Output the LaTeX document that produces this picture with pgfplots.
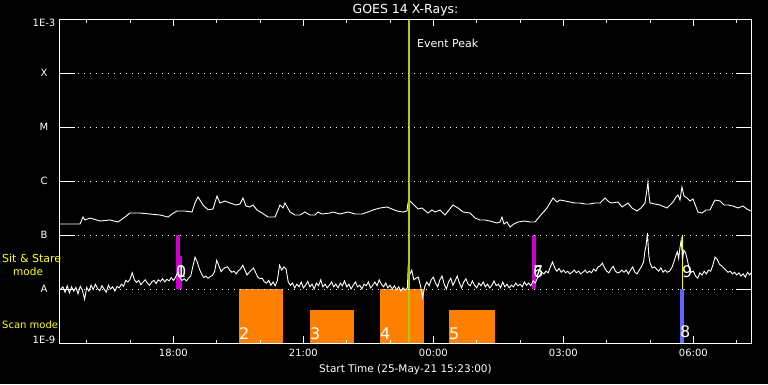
\documentclass[border=0pt]{standalone}
\usepackage{pgfplots}
\pgfplotsset{compat=1.18}
\usepackage{fontspec}
\setmainfont{DejaVu Sans}
\definecolor{scanorange}{RGB}{255,128,0}
\definecolor{sitmag}{RGB}{204,0,204}
\definecolor{evgreen}{RGB}{165,205,10}
\definecolor{bluebar}{RGB}{100,100,255}
\definecolor{ylw}{RGB}{255,255,0}
\begin{document}
\begin{tikzpicture}
\path[use as bounding box, fill=black] (-60pt,-41pt) rectangle (708pt,343pt);
\begin{axis}[
  at={(0pt,0pt)}, anchor=south west,
  scale only axis, width=691pt, height=324pt,
  xmin=15.383, xmax=31.33, ymin=-9, ymax=-3,
  axis on top,
  axis line style={draw=white, line width=1pt},
  xtick={18,21,24,27,30},
  xticklabels={18:00,21:00,00:00,03:00,06:00},
  minor xtick={16,17,19,20,22,23,25,26,28,29,31},
  major tick length=7pt, minor tick length=3.5pt,
  tick style={white, line width=1pt},
  xticklabel pos=lower,
  ytick={-8,-7,-6,-5,-4},
  yticklabels={A,B,C,M,X},
  extra y ticks={-9},
  extra y tick labels={1E-9},
  extra y tick style={yticklabel style={yshift=3.5pt}},
  ytick style={draw=none},
  ymajorgrids,
  major grid style={white, line width=0.9pt, dash pattern=on 0.9pt off 5.1pt},
  ticklabel style={white, font=\fontsize{10}{12}\selectfont},
  xticklabel style={yshift=-2.5pt},
  yticklabel style={anchor=center, xshift=-16pt},
  xlabel={Start Time (25-May-21 15:23:00)},
  xlabel style={white, font=\fontsize{10.5}{12}\selectfont, at={(axis description cs:0.5,0)}, anchor=base, yshift=-29pt},
]
% scan mode bars
\addplot[fill=scanorange, draw=none] coordinates {(19.514,-9) (19.514,-8) (20.529,-8) (20.529,-9)};
\addplot[fill=scanorange, draw=none] coordinates {(21.152,-9) (21.152,-8.389) (22.168,-8.389) (22.168,-9)};
\addplot[fill=scanorange, draw=none] coordinates {(22.768,-9) (22.768,-8) (23.783,-8) (23.783,-9)};
\addplot[fill=scanorange, draw=none] coordinates {(24.360,-9) (24.360,-8.389) (25.422,-8.389) (25.422,-9)};
% sit and stare bars
\addplot[fill=sitmag, draw=none] coordinates {(18.060,-8) (18.060,-7) (18.152,-7) (18.152,-8)};
\addplot[fill=sitmag, draw=none] coordinates {(18.060,-8) (18.060,-7.389) (18.198,-7.389) (18.198,-8)};
\addplot[fill=sitmag, draw=none] coordinates {(26.275,-8) (26.275,-7) (26.368,-7) (26.368,-8)};
\addplot[fill=bluebar, draw=none] coordinates {(29.691,-9) (29.691,-8) (29.783,-8) (29.783,-9)};
\addplot[ylw, line width=1pt] coordinates {(29.760,-8) (29.760,-7)};
% y tick segments
\draw[white, line width=1pt] (axis cs:15.383,-8) -- ++(15pt,0pt);
\draw[white, line width=1pt] (axis cs:15.383,-7) -- ++(15pt,0pt);
\draw[white, line width=1pt] (axis cs:15.383,-6) -- ++(15pt,0pt);
\draw[white, line width=1pt] (axis cs:15.383,-5) -- ++(15pt,0pt);
\draw[white, line width=1pt] (axis cs:15.383,-4) -- ++(15pt,0pt);
\draw[white, line width=1pt] (axis cs:31.33,-8) -- ++(-15pt,0pt);
\draw[white, line width=1pt] (axis cs:31.33,-7) -- ++(-15pt,0pt);
\draw[white, line width=1pt] (axis cs:31.33,-6) -- ++(-15pt,0pt);
\draw[white, line width=1pt] (axis cs:31.33,-5) -- ++(-15pt,0pt);
\draw[white, line width=1pt] (axis cs:31.33,-4) -- ++(-15pt,0pt);
% long channel
\addplot[white, line width=0.9pt] table {
x y
15.383 -6.796
15.845 -6.796
15.914 -6.667
15.960 -6.722
16.075 -6.685
16.306 -6.741
16.537 -6.722
16.722 -6.759
16.883 -6.667
16.998 -6.593
17.229 -6.593
17.460 -6.611
17.691 -6.630
17.875 -6.667
17.968 -6.611
18.083 -6.556
18.268 -6.556
18.429 -6.574
18.498 -6.407
18.568 -6.296
18.683 -6.444
18.798 -6.533
18.914 -6.519
19.006 -6.278
19.075 -6.407
19.191 -6.370
19.306 -6.407
19.445 -6.444
19.537 -6.426
19.606 -6.315
19.675 -6.463
19.768 -6.481
19.837 -6.444
19.929 -6.537
20.045 -6.593
20.183 -6.667
20.345 -6.667
20.414 -6.537
20.460 -6.444
20.529 -6.500
20.575 -6.407
20.691 -6.574
20.806 -6.630
20.922 -6.630
21.037 -6.574
21.152 -6.630
21.268 -6.630
21.337 -6.574
21.429 -6.611
21.614 -6.593
21.683 -6.574
21.845 -6.611
22.029 -6.574
22.191 -6.611
22.352 -6.611
22.491 -6.574
22.606 -6.537
22.768 -6.500
22.929 -6.481
23.045 -6.519
23.160 -6.556
23.299 -6.574
23.391 -6.556
23.414 -6.407
23.460 -6.370
23.529 -6.426
23.645 -6.519
23.737 -6.500
23.875 -6.593
23.968 -6.537
24.037 -6.574
24.152 -6.537
24.268 -6.630
24.360 -6.537
24.452 -6.444
24.568 -6.500
24.683 -6.574
24.845 -6.593
24.960 -6.685
25.075 -6.722
25.191 -6.722
25.306 -6.741
25.468 -6.778
25.537 -6.759
25.583 -6.667
25.629 -6.796
25.698 -6.759
25.768 -6.852
25.860 -6.796
25.952 -6.759
26.114 -6.741
26.229 -6.759
26.345 -6.759
26.460 -6.648
26.622 -6.500
26.760 -6.315
26.852 -6.389
26.922 -6.352
27.037 -6.370
27.152 -6.389
27.268 -6.407
27.383 -6.407
27.498 -6.426
27.614 -6.426
27.729 -6.407
27.845 -6.407
27.960 -6.315
28.052 -6.389
28.122 -6.407
28.260 -6.389
28.352 -6.481
28.422 -6.444
28.491 -6.407
28.583 -6.500
28.698 -6.556
28.791 -6.500
28.883 -6.407
28.929 -6.167
28.952 -6.019
28.975 -6.259
28.998 -6.407
29.114 -6.426
29.229 -6.444
29.391 -6.500
29.460 -6.444
29.529 -6.389
29.599 -6.296
29.645 -6.259
29.691 -6.352
29.737 -6.111
29.783 -6.278
29.852 -6.315
29.922 -6.370
29.991 -6.333
30.106 -6.574
30.199 -6.593
30.291 -6.537
30.383 -6.537
30.499 -6.352
30.614 -6.370
30.706 -6.444
30.799 -6.444
30.914 -6.463
31.029 -6.500
31.145 -6.463
31.237 -6.519
31.329 -6.556
};
% short channel
\addplot[white, line width=0.9pt] table {
x y
15.40 -8.00
15.45 -7.96
15.50 -8.06
15.55 -7.94
15.60 -8.07
15.65 -7.96
15.70 -8.04
15.75 -7.97
15.80 -8.09
15.85 -7.95
15.90 -8.02
15.95 -8.19
16.00 -7.97
16.05 -8.04
16.10 -7.93
16.15 -8.01
16.20 -7.91
16.25 -7.99
16.30 -8.03
16.35 -7.94
16.40 -8.00
16.45 -8.06
16.50 -7.93
16.55 -8.00
16.60 -7.96
16.65 -8.04
16.70 -7.95
16.75 -7.98
16.80 -7.91
16.85 -7.95
16.90 -7.84
16.95 -7.87
17.00 -7.82
17.05 -7.70
17.10 -7.83
17.15 -7.88
17.20 -7.84
17.25 -7.92
17.30 -7.87
17.35 -7.83
17.40 -7.89
17.45 -7.93
17.50 -7.87
17.55 -7.84
17.60 -7.90
17.65 -7.83
17.70 -7.86
17.75 -7.81
17.80 -7.87
17.85 -7.82
17.90 -7.85
17.95 -7.79
18.00 -7.84
18.05 -7.78
18.10 -7.69
18.15 -7.79
18.20 -7.84
18.25 -7.81
18.30 -7.85
18.35 -7.80
18.40 -7.76
18.45 -7.58
18.50 -7.41
18.55 -7.50
18.60 -7.63
18.65 -7.72
18.70 -7.79
18.75 -7.76
18.80 -7.80
18.85 -7.77
18.90 -7.75
18.95 -7.68
19.00 -7.47
19.05 -7.57
19.10 -7.68
19.15 -7.63
19.20 -7.60
19.25 -7.59
19.30 -7.65
19.35 -7.69
19.40 -7.67
19.45 -7.72
19.50 -7.66
19.55 -7.63
19.60 -7.56
19.65 -7.65
19.70 -7.74
19.75 -7.69
19.80 -7.65
19.85 -7.61
19.90 -7.70
19.95 -7.78
20.00 -7.81
20.05 -7.80
20.10 -7.87
20.15 -7.89
20.20 -7.84
20.25 -7.93
20.30 -7.87
20.35 -7.94
20.40 -7.84
20.45 -7.56
20.50 -7.65
20.55 -7.59
20.60 -7.63
20.65 -7.87
20.70 -7.93
20.75 -7.89
20.80 -7.98
20.85 -7.91
20.90 -7.96
20.95 -7.87
21.00 -7.98
21.05 -7.93
21.10 -7.86
21.15 -7.96
21.20 -7.91
21.25 -8.00
21.30 -7.89
21.35 -7.94
21.40 -7.83
21.45 -7.96
21.50 -7.91
21.55 -7.98
21.60 -7.93
21.65 -7.87
21.70 -7.96
21.75 -7.91
21.80 -7.98
21.85 -7.89
21.90 -7.94
21.95 -7.85
22.00 -7.96
22.05 -7.91
22.10 -8.00
22.15 -7.93
22.20 -7.87
22.25 -7.96
22.30 -7.93
22.35 -8.00
22.40 -7.91
22.45 -7.94
22.50 -7.87
22.55 -7.98
22.60 -7.93
22.65 -7.87
22.70 -7.94
22.75 -7.83
22.80 -7.91
22.85 -7.96
22.90 -7.89
22.95 -7.98
23.00 -7.93
23.05 -8.00
23.10 -7.94
23.15 -8.02
23.20 -7.96
23.25 -8.04
23.30 -7.98
23.35 -8.02
23.40 -7.98
23.42 -7.56
23.45 -7.74
23.50 -7.65
23.55 -7.83
23.60 -7.80
23.65 -7.78
23.70 -7.93
23.75 -8.15
23.80 -7.96
23.85 -7.87
23.90 -7.94
23.95 -7.83
24.00 -7.78
24.05 -7.89
24.10 -7.96
24.15 -7.83
24.20 -7.76
24.25 -7.91
24.30 -8.00
24.35 -7.87
24.40 -7.80
24.45 -7.93
24.50 -7.85
24.55 -7.76
24.60 -7.89
24.65 -7.98
24.70 -7.87
24.75 -7.81
24.80 -7.91
24.85 -7.94
24.90 -7.85
24.95 -7.93
25.00 -7.98
25.05 -7.89
25.10 -7.94
25.15 -7.87
25.20 -7.96
25.25 -7.91
25.30 -7.98
25.35 -7.93
25.40 -7.85
25.45 -7.94
25.50 -7.91
25.55 -7.98
25.60 -7.87
25.65 -7.96
25.70 -7.91
25.75 -7.98
25.80 -7.93
25.85 -7.96
25.90 -7.89
25.95 -7.94
26.00 -7.91
26.05 -7.96
26.10 -7.87
26.15 -7.93
26.20 -7.89
26.25 -7.94
26.30 -7.85
26.35 -7.89
26.40 -7.80
26.45 -7.76
26.50 -7.69
26.55 -7.72
26.60 -7.67
26.65 -7.70
26.70 -7.59
26.75 -7.50
26.80 -7.61
26.85 -7.67
26.90 -7.62
26.95 -7.69
27.00 -7.65
27.05 -7.70
27.10 -7.67
27.15 -7.72
27.20 -7.69
27.25 -7.65
27.30 -7.70
27.35 -7.67
27.40 -7.72
27.45 -7.69
27.50 -7.65
27.55 -7.70
27.60 -7.67
27.65 -7.70
27.70 -7.63
27.75 -7.67
27.80 -7.59
27.85 -7.57
27.90 -7.52
27.95 -7.61
28.00 -7.67
28.05 -7.70
28.10 -7.63
28.15 -7.58
28.20 -7.67
28.25 -7.70
28.30 -7.69
28.35 -7.65
28.40 -7.69
28.45 -7.65
28.50 -7.72
28.55 -7.65
28.60 -7.59
28.65 -7.69
28.70 -7.72
28.75 -7.65
28.80 -7.59
28.85 -7.50
28.88 -7.31
28.91 -7.19
28.94 -6.96
28.97 -7.37
29.00 -7.52
29.05 -7.61
29.10 -7.59
29.15 -7.63
29.20 -7.67
29.25 -7.61
29.30 -7.69
29.35 -7.65
29.40 -7.69
29.45 -7.67
29.50 -7.61
29.55 -7.50
29.60 -7.37
29.63 -7.31
29.66 -7.43
29.69 -7.24
29.72 -7.09
29.75 -7.46
29.78 -7.28
29.82 -7.33
29.86 -7.46
29.90 -7.61
29.95 -7.69
30.00 -7.67
30.05 -7.76
30.10 -7.80
30.15 -7.70
30.20 -7.74
30.25 -7.67
30.30 -7.72
30.35 -7.65
30.40 -7.67
30.45 -7.56
30.50 -7.41
30.55 -7.45
30.60 -7.54
30.65 -7.57
30.70 -7.61
30.75 -7.65
30.80 -7.69
30.85 -7.67
30.90 -7.72
30.95 -7.69
31.00 -7.74
31.05 -7.70
31.10 -7.76
31.15 -7.72
31.20 -7.78
31.25 -7.69
31.30 -7.74
31.33 -7.70
};
% event peak
\addplot[evgreen, line width=2.5pt] coordinates {(23.437,-9) (23.437,-3)};
\node[white, anchor=base west, inner sep=0pt, font=\fontsize{11}{13}\selectfont] at (axis cs:23.622,-3.519) {Event Peak};
% bar numbers
\node[white, anchor=base west, inner sep=0pt, font=\fontsize{16}{18}\selectfont] at (axis cs:19.514,-8.944) {2};
\node[white, anchor=base west, inner sep=0pt, font=\fontsize{16}{18}\selectfont] at (axis cs:21.152,-8.944) {3};
\node[white, anchor=base west, inner sep=0pt, font=\fontsize{16}{18}\selectfont] at (axis cs:22.768,-8.944) {4};
\node[white, anchor=base west, inner sep=0pt, font=\fontsize{16}{18}\selectfont] at (axis cs:24.360,-8.944) {5};
\node[white, anchor=base west, inner sep=0pt, font=\fontsize{16}{18}\selectfont] at (axis cs:29.691,-8.907) {8};
\node[white, anchor=base west, inner sep=0pt, font=\fontsize{16}{18}\selectfont] at (axis cs:29.737,-7.796) {9};
\node[white, anchor=base west, inner sep=0pt, font=\fontsize{16}{18}\selectfont] at (axis cs:18.06,-7.796) {0};
\node[white, anchor=base west, inner sep=0pt, font=\fontsize{16}{18}\selectfont] at (axis cs:18.06,-7.796) {1};
\node[white, anchor=base west, inner sep=0pt, font=\fontsize{16}{18}\selectfont] at (axis cs:26.298,-7.796) {6};
\node[white, anchor=base west, inner sep=0pt, font=\fontsize{16}{18}\selectfont] at (axis cs:26.298,-7.796) {7};
\end{axis}
\node[white, anchor=base, inner sep=0pt, font=\fontsize{12.5}{14}\selectfont] at (345.5pt,330pt) {GOES 14 X-Rays:};
\node[white, anchor=center, inner sep=0pt, font=\fontsize{10}{12}\selectfont] at (-16pt,320pt) {1E-3};
\node[ylw, anchor=base west, inner sep=0pt, font=\fontsize{11}{13}\selectfont] at (-58pt,81pt) {Sit \& Stare};
\node[ylw, anchor=base west, inner sep=0pt, font=\fontsize{10.5}{12}\selectfont] at (-47pt,68pt) {mode};
\node[ylw, anchor=base west, inner sep=0pt, font=\fontsize{10}{12}\selectfont] at (-58pt,15pt) {Scan mode};
\end{tikzpicture}
\end{document}
